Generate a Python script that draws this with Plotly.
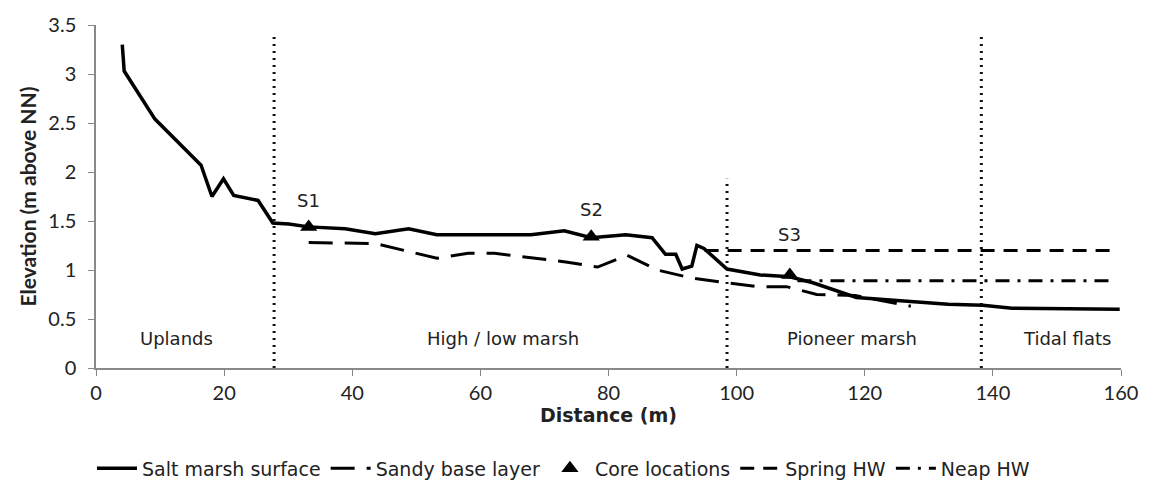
import plotly.graph_objects as go

# Salt marsh surface profile
surf_x = [4.1, 4.4, 9.2, 16.4, 18.1, 19.9, 21.5, 25.3, 27.6, 30.1, 33.2, 38.9, 43.6, 48.8, 53.2,
          67.9, 73.1, 77.3, 82.7, 86.8, 88.9, 90.5, 91.5, 93.0, 93.8, 94.9, 98.5, 103.7, 108.3,
          111.9, 118.7, 127.5, 133.0, 138.4, 143.0, 159.8]
surf_y = [3.30, 3.03, 2.54, 2.07, 1.75, 1.93, 1.76, 1.71, 1.48, 1.47, 1.44, 1.42, 1.37, 1.42, 1.36,
          1.36, 1.40, 1.33, 1.36, 1.33, 1.16, 1.16, 1.01, 1.04, 1.25, 1.22, 1.01, 0.95, 0.93,
          0.87, 0.72, 0.68, 0.65, 0.64, 0.61, 0.60]

# Sandy base layer
sand_x = [33.2, 43.6, 53.2, 58.1, 62.2, 73.6, 78.3, 82.9, 87.6, 92.8, 98.5, 103.2, 107.8,
          112.5, 118.5, 127.2]
sand_y = [1.28, 1.27, 1.12, 1.17, 1.17, 1.08, 1.03, 1.15, 1.00, 0.92, 0.87, 0.83, 0.83,
          0.75, 0.74, 0.63]

# Core locations
core_x = [33.2, 77.3, 108.3]
core_y = [1.44, 1.34, 0.95]
core_names = ["S1", "S2", "S3"]
core_label_y = [1.71, 1.62, 1.36]

# High water levels
spring_x = [95.0, 159.0]
spring_y = [1.2, 1.2]
neap_x = [109.5, 159.0]
neap_y = [0.89, 0.89]

# Zone boundaries
zone_x = [27.8, 98.5, 138.2]
zone_top = [3.42, 1.93, 3.42]
zone_names = ["Uplands", "High / low marsh", "Pioneer marsh", "Tidal flats"]
zone_label_x = [12.6, 63.5, 118.0, 151.6]
zone_label_y = 0.3

x_ticks = [0, 20, 40, 60, 80, 100, 120, 140, 160]
y_ticks = [0, 0.5, 1, 1.5, 2, 2.5, 3, 3.5]
y_tick_text = ["0", "0.5", "1", "1.5", "2", "2.5", "3", "3.5"]

fig = go.Figure()

for zx, zt in zip(zone_x, zone_top):
    fig.add_trace(go.Scatter(x=[zx, zx], y=[0, zt], mode="lines",
                             line=dict(color="#111", width=3, dash="2px,5px"),
                             showlegend=False, hoverinfo="skip"))

fig.add_trace(go.Scatter(x=surf_x, y=surf_y, mode="lines", name="Salt marsh surface",
                         line=dict(color="black", width=3.5)))
fig.add_trace(go.Scatter(x=sand_x, y=sand_y, mode="lines", name="Sandy base layer",
                         line=dict(color="black", width=3, dash="24px,12px")))
fig.add_trace(go.Scatter(x=core_x, y=core_y, mode="markers", name="Core locations",
                         marker=dict(symbol="triangle-up", size=15, color="black")))
fig.add_trace(go.Scatter(x=spring_x, y=spring_y, mode="lines", name="Spring HW",
                         line=dict(color="black", width=3, dash="14px,9px")))
fig.add_trace(go.Scatter(x=neap_x, y=neap_y, mode="lines", name="Neap HW",
                         line=dict(color="black", width=3, dash="14px,8px,3px,8px")))

label_font = dict(family="DejaVu Sans", size=18, color="#222")
for nm, cx, ly in zip(core_names, core_x, core_label_y):
    fig.add_annotation(x=cx, y=ly, text=nm, showarrow=False, font=label_font)
for nm, lx in zip(zone_names, zone_label_x):
    fig.add_annotation(x=lx, y=zone_label_y, text=nm, showarrow=False, font=label_font)

fig.update_layout(
    width=1150, height=488,
    margin=dict(l=96, r=24, t=19, b=120),
    plot_bgcolor="white", paper_bgcolor="white",
    font=dict(family="Lato", size=20, color="#222"),
    xaxis=dict(range=[0, 160], tickvals=x_ticks, showgrid=False, zeroline=False,
               showline=True, linecolor="#888", linewidth=1.5,
               ticks="outside", ticklen=6, tickcolor="#888", ticklabelstandoff=0,
               title=dict(text="<b>Distance (m)</b>", font=dict(family="DejaVu Sans", size=19), standoff=4)),
    yaxis=dict(range=[0, 3.5], tickvals=y_ticks, ticktext=y_tick_text, showgrid=False,
               zeroline=False, showline=True, linecolor="#888", linewidth=1.5,
               ticks="outside", ticklen=6, tickcolor="#888", ticklabelstandoff=8,
               title=dict(text="<b>Elevation (m above NN)</b>", font=dict(family="Lato", size=21), standoff=6)),
    legend=dict(orientation="h", xref="container", yref="container", x=0.49, y=0.04,
                xanchor="center", yanchor="middle", font=dict(family="DejaVu Sans", size=19),
                itemwidth=40, tracegroupgap=0),
)

fig.write_html("out.html")
